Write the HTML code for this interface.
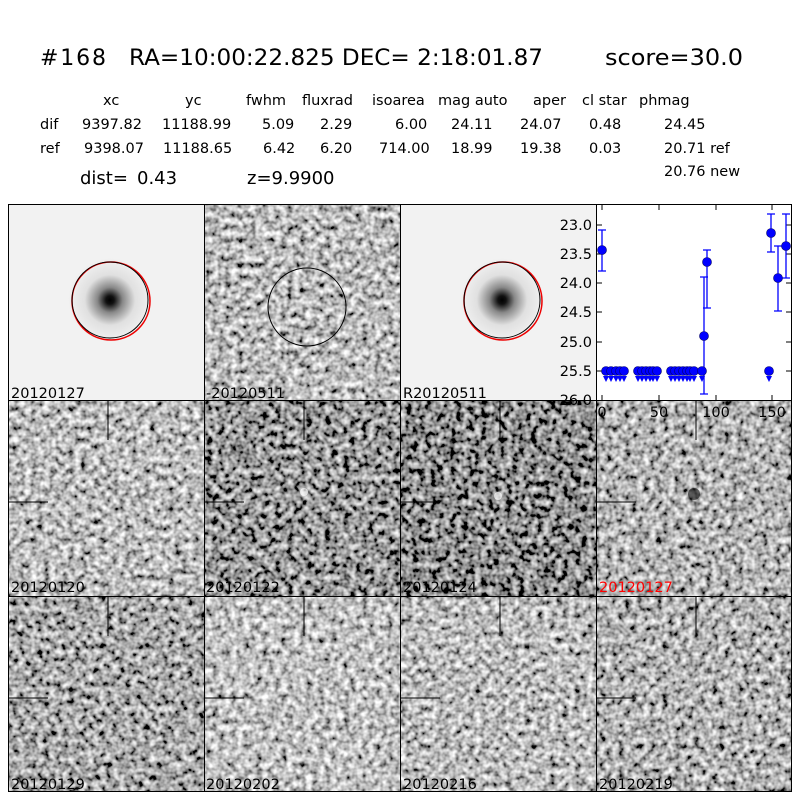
<!DOCTYPE html>
<html><head><style>html,body{margin:0;padding:0;background:#fff}svg{display:block}</style></head><body>
<svg width="800" height="800" xmlns="http://www.w3.org/2000/svg" font-family="DejaVu Sans, Liberation Sans, sans-serif">
<defs>
<radialGradient id="blob"><stop offset="0" stop-color="#000"/><stop offset="0.1" stop-color="#111"/><stop offset="0.3" stop-color="#888"/><stop offset="0.6" stop-color="#e0e0e0"/><stop offset="1" stop-color="#f2f2f2"/></radialGradient>
<filter id="f30" x="0" y="0" width="1" height="1"><feTurbulence type="fractalNoise" baseFrequency="0.16" numOctaves="2" seed="3"/><feColorMatrix values="1.7 0 0 0 -0.58  1.7 0 0 0 -0.58  1.7 0 0 0 -0.58  0 0 0 0 1"/></filter>
<filter id="f35" x="0" y="0" width="1" height="1"><feTurbulence type="fractalNoise" baseFrequency="0.16" numOctaves="2" seed="5"/><feColorMatrix values="1.7 0 0 0 -0.53  1.7 0 0 0 -0.53  1.7 0 0 0 -0.53  0 0 0 0 1"/></filter>
<filter id="f45" x="0" y="0" width="1" height="1"><feTurbulence type="fractalNoise" baseFrequency="0.16" numOctaves="2" seed="7"/><feColorMatrix values="1.7 0 0 0 -0.45  1.7 0 0 0 -0.45  1.7 0 0 0 -0.45  0 0 0 0 1"/></filter>
<filter id="f50" x="0" y="0" width="1" height="1"><feTurbulence type="fractalNoise" baseFrequency="0.16" numOctaves="2" seed="9"/><feColorMatrix values="1.7 0 0 0 -0.4  1.7 0 0 0 -0.4  1.7 0 0 0 -0.4  0 0 0 0 1"/></filter>
<filter id="f55" x="0" y="0" width="1" height="1"><feTurbulence type="fractalNoise" baseFrequency="0.16" numOctaves="2" seed="11"/><feColorMatrix values="1.7 0 0 0 -0.35  1.7 0 0 0 -0.35  1.7 0 0 0 -0.35  0 0 0 0 1"/></filter>
<filter id="f60" x="0" y="0" width="1" height="1"><feTurbulence type="fractalNoise" baseFrequency="0.16" numOctaves="2" seed="13"/><feColorMatrix values="1.7 0 0 0 -0.32  1.7 0 0 0 -0.32  1.7 0 0 0 -0.32  0 0 0 0 1"/></filter>
</defs>
<rect width="800" height="800" fill="#fff"/>
<g font-size="22"><text x="40" y="65" textLength="66">#168</text><text x="129" y="65" textLength="414" lengthAdjust="spacingAndGlyphs">RA=10:00:22.825 DEC= 2:18:01.87</text><text x="605" y="65" textLength="138" lengthAdjust="spacingAndGlyphs">score=30.0</text></g>
<g font-size="14.5">
<text x="103" y="105">xc</text><text x="185" y="105">yc</text><text x="246" y="105">fwhm</text><text x="302" y="105">fluxrad</text><text x="372" y="105">isoarea</text><text x="438" y="105">mag auto</text><text x="533" y="105">aper</text><text x="582" y="105">cl star</text><text x="639" y="105">phmag</text>
<text x="40" y="129">dif</text><text x="82" y="129">9397.82</text><text x="162" y="129">11188.99</text><text x="262" y="129">5.09</text><text x="320" y="129">2.29</text><text x="395" y="129">6.00</text><text x="451" y="129">24.11</text><text x="520" y="129">24.07</text><text x="589" y="129">0.48</text><text x="664" y="129">24.45</text>
<text x="40" y="153">ref</text><text x="84" y="153">9398.07</text><text x="163" y="153">11188.65</text><text x="263" y="153">6.42</text><text x="320" y="153">6.20</text><text x="379" y="153">714.00</text><text x="451" y="153">18.99</text><text x="520" y="153">19.38</text><text x="589" y="153">0.03</text><text x="664" y="153">20.71 ref</text>
<text x="664" y="176">20.76 new</text>
</g>
<g font-size="18"><text x="80" y="184">dist=</text><text x="137" y="184">0.43</text><text x="247" y="184">z=9.9900</text></g>

<!-- row1 -->
<rect x="8" y="204" width="196" height="196" fill="#f2f2f2"/>
<circle cx="110" cy="300" r="42" fill="url(#blob)"/>
<circle cx="111" cy="301" r="39" fill="none" stroke="#e00" stroke-width="1.5"/>
<circle cx="110" cy="300" r="38" fill="none" stroke="#000" stroke-width="1"/>
<rect x="204" y="204" width="196" height="196" filter="url(#f55)"/>
<circle cx="307" cy="307" r="39" fill="none" stroke="#000"/>
<rect x="400" y="204" width="196" height="196" fill="#f2f2f2"/>
<circle cx="502" cy="300" r="42" fill="url(#blob)"/>
<circle cx="503" cy="301" r="39" fill="none" stroke="#e00" stroke-width="1.5"/>
<circle cx="502" cy="300" r="38" fill="none" stroke="#000"/>

<!-- rows 2,3 noise -->
<rect x="8" y="400" width="196" height="196" filter="url(#f55)"/>
<rect x="204" y="400" width="196" height="196" filter="url(#f35)"/>
<rect x="400" y="400" width="196" height="196" filter="url(#f30)"/>
<rect x="596" y="400" width="196" height="196" filter="url(#f50)"/>
<rect x="8" y="596" width="196" height="196" filter="url(#f45)"/>
<rect x="204" y="596" width="196" height="196" filter="url(#f60)"/>
<rect x="400" y="596" width="196" height="196" filter="url(#f55)"/>
<rect x="596" y="596" width="196" height="196" filter="url(#f50)"/>
<g fill="#fff" opacity="0.7"><circle cx="304" cy="492" r="4"/><circle cx="498" cy="496" r="4"/></g>
<g fill="#111" opacity="0.6"><circle cx="694" cy="494" r="6"/></g>
<g stroke="#000" stroke-width="1">
<path d="M108 400v40M8 502h40M304 400v40M204 502h40M500 400v40M400 502h40M696 400v40M596 502h40"/>
<path d="M108 596v40M8 698h40M304 596v40M204 698h40M500 596v40M400 698h40M696 596v40M596 698h40"/>
</g>
<g fill="none" stroke="#000">
<rect x="8.5" y="204.5" width="196" height="196"/><rect x="204.5" y="204.5" width="196" height="196"/><rect x="400.5" y="204.5" width="196" height="196"/>
<rect x="8.5" y="400.5" width="196" height="196"/><rect x="204.5" y="400.5" width="196" height="196"/><rect x="400.5" y="400.5" width="196" height="196"/><rect x="596.5" y="400.5" width="195" height="196"/>
<rect x="8.5" y="596.5" width="196" height="195"/><rect x="204.5" y="596.5" width="196" height="195"/><rect x="400.5" y="596.5" width="196" height="195"/><rect x="596.5" y="596.5" width="195" height="195"/>
</g>
<g font-size="14.5">
<text x="11" y="398">20120127</text><text x="206" y="398">-20120511</text><text x="403" y="398">R20120511</text>
<text x="11" y="592">20120120</text><text x="206" y="592">20120122</text><text x="403" y="592">20120124</text><text x="599" y="592" fill="#f00">20120127</text>
<text x="11" y="789">20120129</text><text x="206" y="789">20120202</text><text x="403" y="789">20120216</text><text x="599" y="789">20120219</text>
</g>

<!-- plot -->
<rect x="596.5" y="204.5" width="195" height="196" fill="#fff" stroke="#000"/>
<g font-size="14.5" text-anchor="end">
<text x="592" y="230">23.0</text><text x="592" y="259">23.5</text><text x="592" y="288">24.0</text><text x="592" y="317">24.5</text><text x="592" y="347">25.0</text><text x="592" y="376">25.5</text><text x="592" y="405">26.0</text>
</g>
<g font-size="14.5" text-anchor="middle">
<text x="602" y="417">0</text><text x="659" y="417">50</text><text x="716" y="417">100</text><text x="772" y="417">150</text>
</g>
<g stroke="#000">
<path d="M597 225h5M597 254h5M597 283h5M597 312h5M597 342h5M597 371h5M791 225h-5M791 254h-5M791 283h-5M791 312h-5M791 342h-5M791 371h-5"/>
<path d="M602 400v-5M659 400v-5M716 400v-5M772 400v-5M602 205v5M659 205v5M716 205v5M772 205v5"/>
</g>
<g stroke="#00f" stroke-width="1.3" fill="none">
<path d="M602 230v41M598 230h8M598 271h8"/>
<path d="M704 277v117M700 277h8M700 394h8"/>
<path d="M707 250v58M703 250h8M703 308h8"/>
<path d="M771 214v38M767 214h8M767 252h8"/>
<path d="M778 246v65M774 246h8M774 311h8"/>
<path d="M786 214v64M782 214h8M782 278h8"/>
</g>
<g fill="#00f" stroke="#006" stroke-width="0.6">
<circle cx="602" cy="250" r="4.5"/><circle cx="704" cy="336" r="4.5"/><circle cx="707" cy="262" r="4.5"/><circle cx="771" cy="233" r="4.5"/><circle cx="778" cy="278" r="4.5"/><circle cx="786" cy="246" r="4.5"/>
<circle cx="606" cy="371" r="4.5"/><circle cx="611" cy="371" r="4.5"/><circle cx="616" cy="371" r="4.5"/><circle cx="620" cy="371" r="4.5"/><circle cx="624" cy="371" r="4.5"/>
<circle cx="638" cy="371" r="4.5"/><circle cx="642" cy="371" r="4.5"/><circle cx="646" cy="371" r="4.5"/><circle cx="650" cy="371" r="4.5"/><circle cx="653" cy="371" r="4.5"/><circle cx="657" cy="371" r="4.5"/>
<circle cx="671" cy="371" r="4.5"/><circle cx="675" cy="371" r="4.5"/><circle cx="679" cy="371" r="4.5"/><circle cx="683" cy="371" r="4.5"/><circle cx="687" cy="371" r="4.5"/><circle cx="690" cy="371" r="4.5"/><circle cx="694" cy="371" r="4.5"/>
<circle cx="702" cy="371" r="4.5"/><circle cx="769" cy="371" r="4.5"/>
</g>
<g fill="#00f">
<path d="M603 376l3 6l3-6zM608 376l3 6l3-6zM613 376l3 6l3-6zM617 376l3 6l3-6zM621 376l3 6l3-6zM635 376l3 6l3-6zM639 376l3 6l3-6zM643 376l3 6l3-6zM647 376l3 6l3-6zM650 376l3 6l3-6zM654 376l3 6l3-6zM668 376l3 6l3-6zM672 376l3 6l3-6zM676 376l3 6l3-6zM680 376l3 6l3-6zM684 376l3 6l3-6zM687 376l3 6l3-6zM691 376l3 6l3-6zM699 376l3 6l3-6zM766 376l3 6l3-6z"/>
</g>
</svg>
</body></html>
